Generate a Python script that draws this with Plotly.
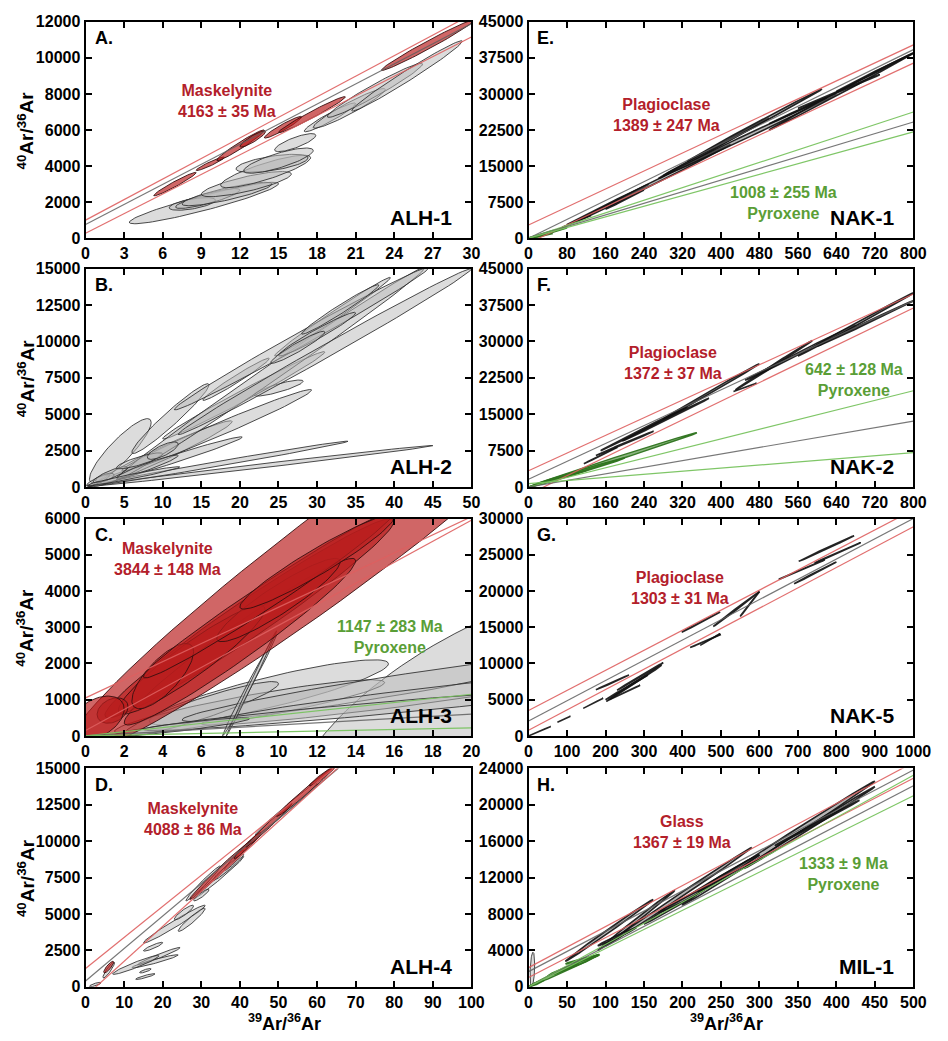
import numpy as np
import plotly.graph_objects as go

# ---------------- DATA ----------------
# ellipses: (centre x, centre y, half-width x, half-height y, correlation)
# lines: (slope, intercept, colour key)

A_X_TICKS = [0, 3, 6, 9, 12, 15, 18, 21, 24, 27, 30]
A_Y_TICKS = [0, 2000, 4000, 6000, 8000, 10000, 12000]
A_GRAY = [
    (9.2, 1950, 5.8, 1150, 0.93), (8.3, 1900, 1.8, 350, 0.6), (9.5, 2200, 2.5, 550, 0.85),
    (11.0, 2450, 3.5, 650, 0.85), (12.5, 3000, 3.5, 700, 0.8), (14.0, 3700, 3.5, 900, 0.85),
    (14.5, 4150, 2.8, 500, 0.6), (15.0, 4300, 2.7, 700, 0.8), (16.3, 5300, 1.6, 500, 0.8),
    (19.0, 6700, 2.0, 800, 0.95), (20.5, 7200, 2.8, 1100, 0.95), (22.5, 8200, 3.7, 1500, 0.97),
    (25.0, 9000, 4.3, 1950, 0.985),
]
A_RED = [
    (6.95, 3000, 1.65, 650, 0.97), (9.7, 4125, 1.1, 375, 0.95), (12.05, 5150, 1.85, 850, 0.97),
    (13.0, 5500, 1.0, 450, 0.9), (15.35, 6150, 1.45, 600, 0.95), (17.6, 6850, 2.6, 1000, 0.98),
    (26.6, 10700, 3.6, 1400, 0.985),
]
A_LINES = [(380, 1000, "red"), (371, 760, "gray"), (363, 270, "red")]
A_TEXT = [("Maskelynite<br>4163 ± 35 Ma", 11.0, 7580, "red")]

B_X_TICKS = [0, 5, 10, 15, 20, 25, 30, 35, 40, 45, 50]
B_Y_TICKS = [0, 2500, 5000, 7500, 10000, 12500, 15000]
B_GRAY = [
    (22.7, 1450, 22.3, 1400, 0.995), (17.2, 1600, 16.8, 1550, 0.994), (10.3, 1750, 10.0, 1700, 0.985),
    (10.0, 2300, 9.0, 2250, 0.975), (4.5, 2500, 4.0, 2200, 0.88), (17.0, 3900, 12.3, 2800, 0.985),
    (25.0, 6800, 3.2, 550, 0.85), (19.5, 7400, 4.3, 1450, 0.98), (11.0, 4700, 5.0, 2400, 0.965),
    (20.5, 6300, 10.5, 3000, 0.99), (32.0, 11700, 7.5, 2700, 0.992), (24.0, 7800, 20.0, 7300, 0.996),
    (31.0, 9300, 19.0, 5700, 0.996), (28.0, 10200, 16.5, 4900, 0.994), (33.0, 12200, 5.0, 1700, 0.98),
    (30.0, 10500, 5.0, 1500, 0.97), (27.5, 9600, 3.5, 1100, 0.95), (1.6, 450, 1.5, 400, 0.85),
    (2.5, 650, 1.2, 300, 0.6), (3.2, 850, 2.2, 550, 0.85), (7.0, 1800, 3.0, 550, 0.85),
    (10.0, 2500, 2.0, 600, 0.75), (8.0, 1400, 4.0, 800, 0.95), (6.2, 750, 6.0, 650, 0.97),
]
B_RED = []
B_LINES = []
B_TEXT = []

C_X_TICKS = [0, 2, 4, 6, 8, 10, 12, 14, 16, 18, 20]
C_Y_TICKS = [0, 1000, 2000, 3000, 4000, 5000, 6000]
C_GRAY = [
    (19.0, 800, 8.0, 3000, 0.75), (9.5, 1200, 6.2, 900, 0.88), (8.5, 800, 7.0, 750, 0.9),
    (6.0, 750, 4.0, 750, 0.92), (15.0, 1300, 10.0, 900, 0.95), (16.0, 1000, 10.0, 700, 0.95),
    (14.0, 700, 11.0, 550, 0.95), (8.5, 1400, 1.4, 1400, 0.995), (8.6, 1450, 1.3, 1450, 0.998),
    (5.0, 250, 3.5, 250, 0.9),
]
C_RED = [
    (14.0, 5500, 15.0, 6030, 0.97), (8.5, 3250, 7.5, 2750, 0.975), (8.0, 2600, 6.0, 2300, 0.97),
    (5.5, 2100, 3.8, 1500, 0.93), (4.0, 1650, 1.6, 900, 0.75), (10.0, 3750, 3.2, 1150, 0.92),
    (9.5, 3900, 6.5, 2300, 0.985), (1.4, 700, 0.8, 350, 0.3), (0.6, 500, 1.4, 600, 0.4),
    (12.0, 4800, 4.0, 1300, 0.95),
]
C_LINES = [(290, 150, "red"), (250, 1050, "red"), (57.5, 0, "green"), (30, 0, "gray"), (11, 0, "green")]
C_TEXT = [("Maskelynite<br>3844 ± 148 Ma", 4.24, 4890, "red"), ("1147 ± 283 Ma<br>Pyroxene", 15.76, 2740, "green")]

D_X_TICKS = [0, 10, 20, 30, 40, 50, 60, 70, 80, 90, 100]
D_Y_TICKS = [0, 2500, 5000, 7500, 10000, 12500, 15000]
D_GRAY = [
    (30.5, 7100, 4.5, 1200, 0.98), (34.5, 7500, 6.5, 1450, 0.99), (23.0, 4300, 8.0, 1300, 0.98),
    (27.5, 4600, 3.5, 800, 0.95), (25.5, 5100, 2.5, 500, 0.9), (17.5, 2750, 2.5, 300, 0.9),
    (19.0, 2100, 5.5, 600, 0.97), (18.0, 1750, 6.0, 450, 0.95), (13.0, 1500, 6.0, 650, 0.95),
    (15.5, 700, 2.5, 200, 0.9), (15.5, 1100, 1.5, 150, 0.8), (6.0, 1150, 1.5, 550, 0.9),
    (2.5, 150, 1.5, 150, 0.8), (37.0, 8200, 4.0, 900, 0.97), (38.5, 8700, 2.5, 700, 0.95),
    (52.0, 12200, 8.0, 1800, 0.99), (30.0, 6300, 2.0, 400, 0.9),
]
D_RED = [
    (35.0, 8000, 8.0, 2000, 0.99), (42.0, 9700, 3.5, 900, 0.97), (47.5, 11100, 6.0, 1500, 0.99),
    (57.0, 13400, 7.5, 1700, 0.99), (61.5, 14500, 3.5, 700, 0.97), (6.0, 1350, 1.3, 400, 0.85),
]
D_LINES = [(213.5, 1250, "red"), (223, 400, "gray"), (240, -650, "red")]
D_TEXT = [("Maskelynite<br>4088 ± 86 Ma", 27.8, 11490, "red")]

E_X_TICKS = [0, 80, 160, 240, 320, 400, 480, 560, 640, 720, 800]
E_Y_TICKS = [0, 7500, 15000, 22500, 30000, 37500, 45000]
E_DARK = [
    (165, 7000, 85, 4200, 0.999), (260, 11500, 160, 8000, 0.999), (385, 18700, 115, 6300, 0.999),
    (470, 23500, 140, 7500, 0.999), (460, 21500, 180, 8500, 0.999), (650, 30500, 150, 8000, 0.999),
    (645, 30500, 85, 3500, 0.999), (560, 26500, 60, 2700, 0.999), (720, 34500, 80, 4000, 0.999),
    (200, 8000, 40, 2000, 0.999), (100, 3500, 30, 1200, 0.999),
]
E_GREEN = [(40, 1100, 40, 1100, 0.98), (25, 500, 25, 500, 0.95)]
E_LINES = [(46.8, 2750, "red"), (46.75, -1000, "red"), (49, 0, "gray"),
           (32.8, 0, "green"), (30.2, 0, "gray"), (27.65, 0, "green")]
E_TEXT = [("Plagioclase<br>1389 ± 247 Ma", 286, 25600, "red"), ("1008 ± 255 Ma<br>Pyroxene", 530, 7220, "green")]

F_X_TICKS = [0, 80, 160, 240, 320, 400, 480, 560, 640, 720, 800]
F_Y_TICKS = [0, 7500, 15000, 22500, 30000, 37500, 45000]
F_DARK = [
    (150, 6500, 35, 1700, 0.999), (240, 12000, 90, 4500, 0.999), (285, 13900, 90, 4400, 0.999),
    (380, 19700, 100, 5700, 0.999), (510, 25100, 80, 5100, 0.999), (450, 20550, 24, 850, 0.999),
    (565, 27700, 115, 5700, 0.999), (680, 33500, 120, 6500, 0.999), (700, 33700, 100, 4700, 0.999),
    (200, 9000, 60, 2500, 0.999),
]
F_GREEN = [(175, 5600, 175, 5600, 0.998), (100, 3000, 100, 3000, 0.995), (60, 1700, 60, 1700, 0.995)]
F_LINES = [(45.5, 3370, "red"), (46, 1620, "gray"), (48, -1500, "red"),
           (24.8, 0, "green"), (17, 0, "gray"), (8.0, 700, "green")]
F_TEXT = [("Plagioclase<br>1372 ± 37 Ma", 300, 25540, "red"), ("642 ± 128 Ma<br>Pyroxene", 676, 22100, "green")]

G_X_TICKS = [0, 100, 200, 300, 400, 500, 600, 700, 800, 900, 1000]
G_Y_TICKS = [0, 5000, 10000, 15000, 20000, 25000, 30000]
G_DARK = [
    (29, 650, 29, 650, 0.999), (92, 2300, 17, 400, 0.999), (168, 4500, 26, 700, 0.999),
    (218, 7380, 43, 1020, 0.999), (274, 7270, 72, 2500, 0.999), (255, 6700, 55, 1700, 0.999),
    (290, 8200, 60, 1900, 0.999), (250, 6000, 40, 1000, 0.999), (448, 15700, 50, 1400, 0.999),
    (472, 13300, 26, 800, 0.999), (460, 13100, 40, 900, 0.999), (575, 18200, 25, 1700, 0.999),
    (540, 17500, 60, 2400, 0.999), (774, 25860, 72, 1770, 0.999), (803, 25270, 60, 1400, 0.999),
    (710, 22950, 60, 1350, 0.999), (745, 22500, 55, 1500, 0.999),
]
G_GREEN = []
G_LINES = [(27.7, 3500, "red"), (27.95, 2050, "gray"), (28.1, 770, "red")]
G_TEXT = [("Plagioclase<br>1303 ± 31 Ma", 393, 20450, "red")]

H_X_TICKS = [0, 50, 100, 150, 200, 250, 300, 350, 400, 450, 500]
H_Y_TICKS = [0, 4000, 8000, 12000, 16000, 20000, 24000]
H_GRAY = [(5, 1900, 3, 1900, 0.3)]
H_DARK = [
    (105, 6200, 57, 3400, 0.998), (140, 7300, 50, 3300, 0.998), (195, 9900, 95, 5400, 0.999),
    (225, 10700, 75, 3800, 0.998), (325, 15800, 125, 6800, 0.999), (365, 17500, 85, 4500, 0.999),
    (375, 18000, 55, 2500, 0.999), (115, 5500, 25, 1000, 0.99), (200, 9500, 30, 1300, 0.99),
    (260, 12500, 40, 2000, 0.995),
]
H_GREEN = [
    (46, 1800, 46, 1750, 0.995), (62, 2460, 30, 1090, 0.99), (70, 3000, 22, 500, 0.97),
    (10, 350, 10, 350, 0.95), (45, 1900, 20, 700, 0.98),
]
H_LINES = [(45.1, 2100, "red"), (44.3, 1665, "gray"), (43.8, 1010, "red"),
           (46.5, 0, "green"), (44.2, 0, "gray"), (42, 0, "green")]
H_TEXT = [("Glass<br>1367 ± 19 Ma", 199, 17050, "red"), ("1333 ± 9 Ma<br>Pyroxene", 409, 12380, "green")]

LETTERS = ["A.", "B.", "C.", "D.", "E.", "F.", "G.", "H."]
SAMPLES = ["ALH-1", "ALH-2", "ALH-3", "ALH-4", "NAK-1", "NAK-2", "NAK-5", "MIL-1"]

# ---------------- STYLE ----------------
W, H = 948, 1041
COLS_PX = [(83.5, 478.5), (537, 931)]
ROWS_PX = [(14, 234), (265, 487), (519, 740), (773, 995)]
FONT = "Liberation Sans, Arial, sans-serif"
TXT_COL = {"red": "#b3202a", "green": "#5a9e36"}
LINE_COL = {"red": "rgba(222,95,95,0.9)", "gray": "rgba(95,95,95,0.85)", "green": "rgba(120,195,95,0.95)"}
STY = {
    "gray": dict(fill="rgba(185,185,185,0.5)", line="rgba(45,45,45,0.85)", w=1.0),
    "red": dict(fill="rgba(185,30,30,0.68)", line="rgba(55,15,15,0.9)", w=1.0),
    "dark": dict(fill="rgba(110,110,110,0.5)", line="rgba(15,15,15,0.9)", w=1.6),
    "green": dict(fill="rgba(60,130,40,0.6)", line="rgba(45,115,30,0.95)", w=1.4),
}

panels = [
    (A_X_TICKS, A_Y_TICKS, [("gray", A_GRAY), ("red", A_RED)], A_LINES, A_TEXT),
    (B_X_TICKS, B_Y_TICKS, [("gray", B_GRAY), ("red", B_RED)], B_LINES, B_TEXT),
    (C_X_TICKS, C_Y_TICKS, [("gray", C_GRAY), ("red", C_RED)], C_LINES, C_TEXT),
    (D_X_TICKS, D_Y_TICKS, [("gray", D_GRAY), ("red", D_RED)], D_LINES, D_TEXT),
    (E_X_TICKS, E_Y_TICKS, [("dark", E_DARK), ("green", E_GREEN)], E_LINES, E_TEXT),
    (F_X_TICKS, F_Y_TICKS, [("dark", F_DARK), ("green", F_GREEN)], F_LINES, F_TEXT),
    (G_X_TICKS, G_Y_TICKS, [("dark", G_DARK), ("green", G_GREEN)], G_LINES, G_TEXT),
    (H_X_TICKS, H_Y_TICKS, [("gray", H_GRAY), ("dark", H_DARK), ("green", H_GREEN)], H_LINES, H_TEXT),
]


def ellipse(cx, cy, sx, sy, rho, n=90):
    t = np.linspace(0, 2 * np.pi, n)
    s = np.sqrt(max(1 - rho * rho, 0))
    return cx + sx * np.cos(t), cy + sy * (rho * np.cos(t) + s * np.sin(t))


fig = go.Figure()
annotations = []

for i, (xt, yt, groups, lines, texts) in enumerate(panels):
    n = i + 1
    col, row = i // 4, i % 4
    xa = "x" if n == 1 else f"x{n}"
    ya = "y" if n == 1 else f"y{n}"
    x0, x1 = COLS_PX[col]
    y0, y1 = ROWS_PX[row]
    axis_common = dict(showline=True, linecolor="black", linewidth=2, mirror="ticks",
                       ticks="inside", ticklen=6, tickwidth=2, tickcolor="black",
                       showgrid=False, zeroline=False, tickmode="array",
                       tickfont=dict(family=FONT, size=16, color="black", weight="bold"))
    fig.layout["xaxis" if n == 1 else f"xaxis{n}"] = dict(
        domain=[x0 / W, x1 / W], range=[xt[0], xt[-1]], anchor=ya,
        tickvals=xt, ticktext=[str(v) for v in xt], **axis_common)
    fig.layout["yaxis" if n == 1 else f"yaxis{n}"] = dict(
        domain=[1 - y1 / H, 1 - y0 / H], range=[yt[0], yt[-1]], anchor=xa,
        tickvals=yt, ticktext=[str(v) for v in yt], **axis_common)

    for kind, ells in groups:
        st = STY[kind]
        for (cx, cy, sx, sy, rho) in ells:
            ex, ey = ellipse(cx, cy, sx, sy, rho)
            fig.add_trace(go.Scatter(x=ex, y=ey, mode="lines", fill="toself",
                                     fillcolor=st["fill"], line=dict(color=st["line"], width=st["w"]),
                                     xaxis=xa, yaxis=ya, hoverinfo="skip", showlegend=False))
    xmax = xt[-1]
    for slope, icpt, ck in lines:
        lx = np.array([0, xmax])
        fig.add_trace(go.Scatter(x=lx, y=icpt + slope * lx, mode="lines",
                                 line=dict(color=LINE_COL[ck], width=1.2),
                                 xaxis=xa, yaxis=ya, hoverinfo="skip", showlegend=False))
    for txt, tx, ty, ck in texts:
        annotations.append(dict(text=txt, x=tx, y=ty, xref=xa, yref=ya, showarrow=False,
                                font=dict(family=FONT, size=16, color=TXT_COL[ck], weight="bold"),
                                align="center", xanchor="center", yanchor="middle"))
    annotations.append(dict(text=LETTERS[i], x=0.018, y=0.925, xref=f"{xa} domain", yref=f"{ya} domain",
                            showarrow=False, xanchor="left", yanchor="middle",
                            font=dict(family=FONT, size=18, color="black", weight="bold")))
    annotations.append(dict(text=SAMPLES[i], x=0.955, y=0.095, xref=f"{xa} domain", yref=f"{ya} domain",
                            showarrow=False, xanchor="right", yanchor="middle",
                            font=dict(family=FONT, size=21, color="black", weight="bold")))
    if col == 0:
        annotations.append(dict(text="<sup>40</sup>Ar/<sup>36</sup>Ar", x=22 / W, y=1 - (y0 + y1) / 2 / H,
                                xref="paper", yref="paper", showarrow=False, textangle=-90,
                                xanchor="center", yanchor="middle",
                                font=dict(family=FONT, size=19, color="black", weight="bold")))
    if row == 3:
        annotations.append(dict(text="<sup>39</sup>Ar/<sup>36</sup>Ar", x=(x0 + x1) / 2 / W + 0.006,
                                y=1 - 1031 / H, xref="paper", yref="paper", showarrow=False,
                                xanchor="center", yanchor="middle",
                                font=dict(family=FONT, size=18, color="black", weight="bold")))

fig.update_layout(width=W, height=H, autosize=False, margin=dict(l=0, r=0, t=0, b=0),
                  paper_bgcolor="white", plot_bgcolor="white", annotations=annotations,
                  showlegend=False)
fig.write_html("out.html")
